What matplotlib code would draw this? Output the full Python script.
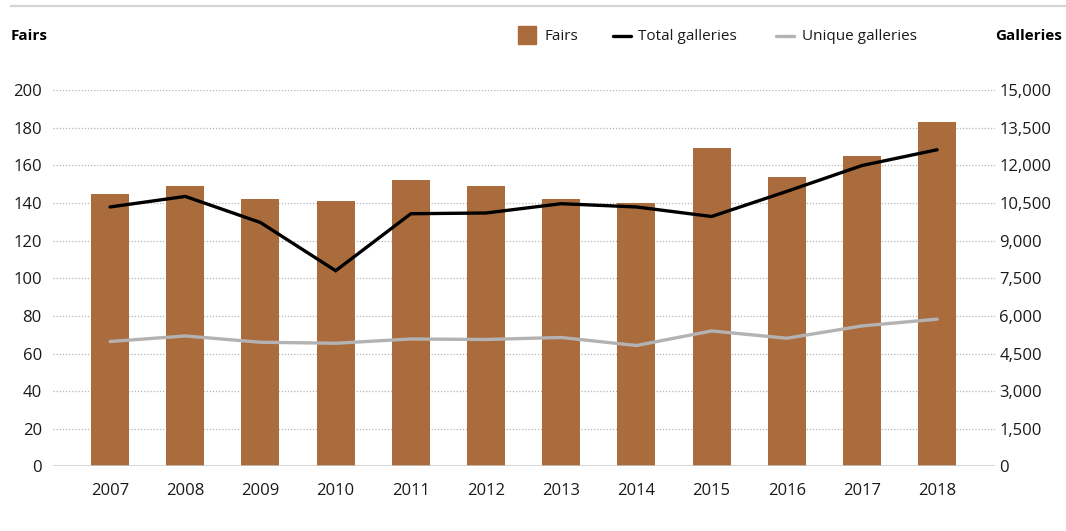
import matplotlib.pyplot as plt
import matplotlib as mpl
import numpy as np
from matplotlib.ticker import FuncFormatter

mpl.rcParams.update({
    'font.family': ['Open Sans', 'DejaVu Sans'],
    'font.size': 11,
    'xtick.labelsize': 12,
    'ytick.labelsize': 12,
})

years = ['2007', '2008', '2009', '2010', '2011', '2012',
         '2013', '2014', '2015', '2016', '2017', '2018']
fairs = [145, 149, 142, 141, 152, 149, 142, 140, 169, 154, 165, 183]
total_galleries = [10340, 10760, 9720, 7800, 10070, 10100,
                   10470, 10340, 9960, 10960, 11990, 12620]
unique_galleries = [4980, 5200, 4950, 4910, 5080, 5060,
                    5140, 4820, 5400, 5110, 5600, 5870]

bar_color = '#aa6c3d'
black = '#000000'
grey = '#b3b3b3'
text_color = '#1a1a1a'

fig = plt.figure(figsize=(10.66, 5.31), dpi=100)
ax = fig.add_axes([0.0497, 0.1215, 0.8837, 0.709])
ax2 = ax.twinx()

x = np.arange(len(years))
ax.bar(x, fairs, width=0.505, color=bar_color, zorder=2)
ax2.plot(x, total_galleries, color=black, lw=2.4, solid_capstyle='round', solid_joinstyle='miter')
ax2.plot(x, unique_galleries, color=grey, lw=2.4, solid_capstyle='round')

ax.set_xlim(-0.76, 11.77)
ax.set_ylim(0, 200)
ax.set_yticks(np.arange(0, 201, 20))
ax2.set_ylim(0, 15000)
ax2.set_yticks(np.arange(0, 15001, 1500))
ax2.yaxis.set_major_formatter(FuncFormatter(lambda v, p: f'{int(v):,}'))

ax.set_xticks(x)
ax.set_xticklabels(years)

ax.set_axisbelow(True)
ax.yaxis.grid(True, color='#b5b5b5', linestyle=(0, (1, 1.5)), lw=0.9)
ax.xaxis.grid(False)

for a in (ax, ax2):
    for s in ['top', 'left', 'right', 'bottom']:
        a.spines[s].set_visible(False)
ax.axhline(0, color='#cccccc', lw=1.8, zorder=3)

ax.tick_params(axis='y', length=0, pad=8, colors=text_color)
ax.tick_params(axis='x', length=0, pad=12, colors=text_color)
ax2.tick_params(axis='y', length=0, pad=3, colors=text_color)

# header
fig.add_artist(plt.Line2D([11 / 1066, 1.0], [1 - 5.7 / 531] * 2, color='#d4d4d4', lw=1.6))
fig.text(11 / 1066, 1 - 36 / 531, 'Fairs', fontweight='bold', fontsize=11, va='center', ha='left', color='#000')
fig.text(1062 / 1066, 1 - 36 / 531, 'Galleries', fontweight='bold', fontsize=11, va='center', ha='right', color='#000')

fig.patches.append(mpl.patches.Rectangle((518 / 1066, 1 - 44 / 531), 18 / 1066, 18 / 531,
                                         transform=fig.transFigure, color=bar_color))
fig.text(545 / 1066, 1 - 36.5 / 531, 'Fairs', fontsize=11, va='center', ha='left', color=text_color)
fig.add_artist(plt.Line2D([613 / 1066, 631 / 1066], [1 - 36 / 531] * 2, color=black, lw=2.4, solid_capstyle='round'))
fig.text(638 / 1066, 1 - 36.5 / 531, 'Total galleries', fontsize=11, va='center', ha='left', color=text_color)
fig.add_artist(plt.Line2D([776 / 1066, 794 / 1066], [1 - 36 / 531] * 2, color=grey, lw=2.4, solid_capstyle='round'))
fig.text(802 / 1066, 1 - 36.5 / 531, 'Unique galleries', fontsize=11, va='center', ha='left', color=text_color)

plt.savefig('out.png', dpi=100)
plt.close()
